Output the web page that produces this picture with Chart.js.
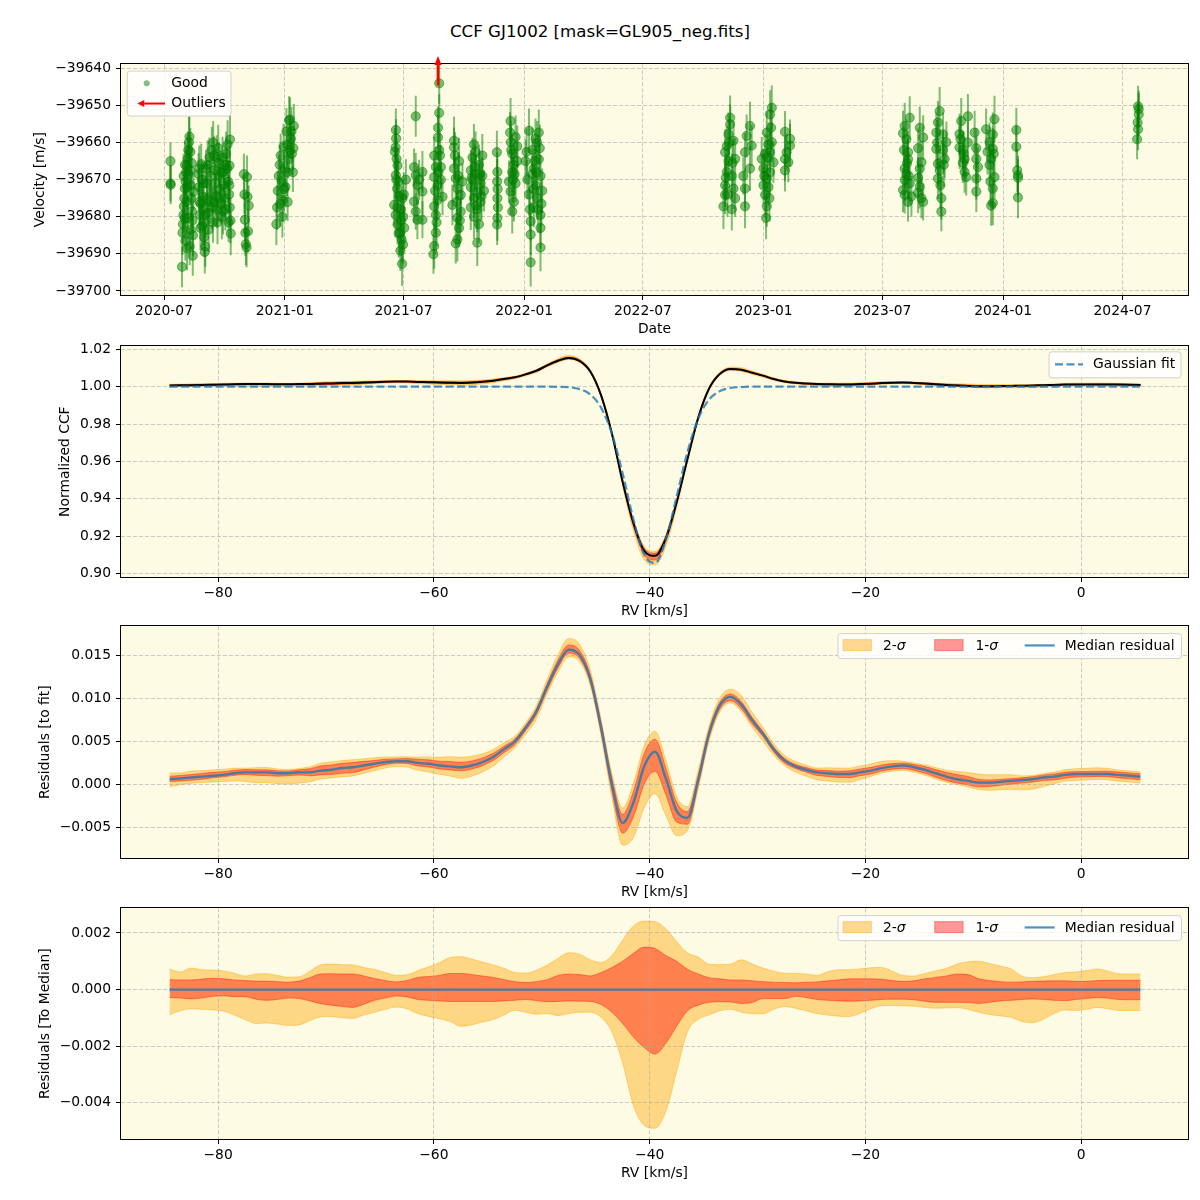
<!DOCTYPE html>
<html><head><meta charset="utf-8">
<script src="https://cdn.jsdelivr.net/npm/chart.js@4.4.1/dist/chart.umd.min.js"></script>
<style>
html,body{margin:0;padding:0;background:#fff;}
#wrap{position:relative;width:1200px;height:1200px;overflow:hidden;background:#fff;}
canvas{position:absolute;left:0;}
#title{position:absolute;left:0;width:1200px;top:21px;text-align:center;font:16.67px 'DejaVu Sans',sans-serif;color:#000;line-height:22px;}
</style></head><body>
<div id="wrap">
<div id="title">CCF GJ1002 [mask=GL905_neg.fits]</div>
<canvas id="c1" width="1200" height="291" style="top:51px"></canvas>
<canvas id="c2" width="1200" height="291" style="top:333px"></canvas>
<canvas id="c3" width="1200" height="292" style="top:613px"></canvas>
<canvas id="c4" width="1200" height="291" style="top:895px"></canvas>
</div>
<script>
// ---------------- DATA ----------------
// Panel 1: [decimal year, velocity m/s, error m/s]
const goodObs = [
[2020.524,-39665.0,5.0],[2020.524,-39671.0,4.8],[2020.525,-39671.4,5.2],
[2020.572,-39693.5,5.5],[2020.574,-39684.3,6.0],[2020.576,-39682.0,5.2],[2020.578,-39679.5,4.8],[2020.580,-39677.2,5.5],[2020.582,-39675.0,6.2],[2020.584,-39672.4,5.0],[2020.587,-39670.5,4.6],[2020.589,-39668.0,5.8],[2020.592,-39666.2,5.2],[2020.595,-39664.4,6.5],[2020.598,-39662.0,5.0],[2020.601,-39659.9,6.8],[2020.603,-39658.4,5.5],[2020.606,-39667.5,4.8],[2020.608,-39671.5,5.4],[2020.611,-39675.0,6.0],[2020.613,-39678.5,5.2],[2020.616,-39681.0,4.9],[2020.618,-39685.0,5.6],[2020.620,-39673.2,5.0],[2020.586,-39686.5,5.3],[2020.597,-39680.3,5.7],[2020.604,-39688.0,5.1],[2020.617,-39690.5,5.4],
[2020.579,-39669.0,6.0],[2020.583,-39680.5,5.5],[2020.590,-39676.0,5.8],[2020.594,-39672.0,6.1],[2020.599,-39668.5,5.3],[2020.607,-39662.5,6.4],[2020.612,-39665.5,5.7],[2020.609,-39683.5,5.2],[2020.593,-39688.5,5.9],[2020.585,-39666.0,6.3],
[2020.641,-39668.5,5.6],[2020.643,-39672.0,5.2],[2020.645,-39676.0,5.9],[2020.647,-39679.5,5.3],[2020.649,-39683.0,6.0],[2020.652,-39665.8,5.5],[2020.655,-39670.0,5.0],[2020.657,-39674.5,5.7],[2020.660,-39678.0,5.4],[2020.662,-39681.5,6.1],[2020.664,-39685.5,5.2],[2020.667,-39689.5,5.8],[2020.669,-39688.0,5.5],[2020.672,-39667.0,5.1],[2020.675,-39671.0,5.9],[2020.677,-39675.5,5.3],[2020.680,-39679.0,5.6],[2020.683,-39683.5,6.0],[2020.686,-39664.0,5.4],[2020.690,-39669.0,5.7],[2020.694,-39673.5,5.0],[2020.698,-39677.5,5.8],[2020.701,-39681.5,5.5],
[2020.644,-39667.0,6.2],[2020.650,-39676.5,5.8],[2020.656,-39682.5,6.4],[2020.663,-39671.0,5.5],[2020.670,-39679.5,6.0],[2020.679,-39666.0,6.6],[2020.688,-39676.0,5.9],[2020.696,-39662.0,6.3],
[2020.702,-39660.0,5.8],[2020.705,-39663.5,5.2],[2020.708,-39667.5,6.0],[2020.711,-39671.0,5.4],[2020.714,-39674.5,5.7],[2020.717,-39678.0,5.1],[2020.720,-39681.5,5.9],[2020.723,-39661.5,6.3],[2020.726,-39665.5,5.5],[2020.729,-39669.0,5.0],[2020.732,-39672.5,5.8],[2020.735,-39676.5,5.3],[2020.738,-39680.0,6.1],[2020.741,-39664.0,5.6],[2020.744,-39668.0,5.2],[2020.747,-39671.5,5.9],[2020.750,-39675.0,5.4],[2020.753,-39678.0,5.7],[2020.756,-39663.0,6.0],[2020.760,-39667.0,5.3],[2020.764,-39670.5,5.8],[2020.768,-39674.0,5.1],[2020.771,-39677.5,5.6],[2020.774,-39681.0,6.2],[2020.772,-39659.2,6.5],[2020.770,-39666.2,5.4],[2020.775,-39684.5,5.9],[2020.766,-39681.5,5.3],
[2020.707,-39676.0,6.2],[2020.716,-39664.0,6.0],[2020.725,-39675.0,6.4],[2020.734,-39668.0,5.8],[2020.743,-39678.5,6.3],[2020.752,-39666.0,5.9],[2020.762,-39660.5,6.5],[2020.769,-39671.5,6.0],
[2020.830,-39668.5,5.5],[2020.832,-39674.0,5.2],[2020.834,-39680.8,5.9],[2020.836,-39684.3,6.2],[2020.838,-39687.4,5.6],[2020.841,-39688.3,5.3],[2020.843,-39669.3,5.8],[2020.845,-39674.6,5.0],[2020.847,-39683.9,5.7],[2020.850,-39677.0,5.4],
[2020.965,-39682.0,5.6],[2020.968,-39677.5,6.0],[2020.971,-39673.0,5.3],[2020.975,-39669.0,5.8],[2020.979,-39666.0,5.2],[2020.983,-39663.5,5.9],[2020.987,-39670.5,5.4],[2020.991,-39675.5,5.7],[2020.995,-39661.0,6.1],[2020.999,-39667.0,5.0],[2021.003,-39672.0,5.5],[2021.007,-39657.0,6.3],[2021.011,-39660.5,5.6],[2021.015,-39664.5,5.2],[2021.018,-39654.0,6.5],[2021.022,-39653.8,6.0],[2021.026,-39659.0,5.4],[2021.030,-39663.0,5.8],[2021.034,-39668.0,5.3],[2021.038,-39655.5,5.9],[2021.012,-39676.0,5.1],[2020.990,-39680.0,5.6],
[2020.981,-39676.5,6.2],[2020.997,-39672.5,6.0],[2021.009,-39668.0,6.4],[2021.020,-39662.0,6.1],[2021.028,-39657.0,6.6],[2021.036,-39661.5,6.0],
[2021.464,-39656.6,5.8],[2021.465,-39658.9,5.2],[2021.463,-39661.3,6.0],[2021.467,-39664.4,5.5],[2021.471,-39666.2,4.9],[2021.464,-39668.8,6.3],[2021.469,-39672.4,5.0],[2021.457,-39676.8,5.6],[2021.463,-39679.5,6.1],[2021.471,-39682.1,5.3],[2021.481,-39684.3,5.8],[2021.488,-39686.1,6.2],[2021.483,-39689.2,5.4],[2021.490,-39692.7,6.0],[2021.495,-39680.0,5.1],[2021.506,-39670.0,5.5],[2021.492,-39675.0,4.8],[2021.478,-39674.5,5.2],[2021.474,-39670.5,6.4],[2021.485,-39678.0,5.0],[2021.499,-39683.0,5.7],[2021.494,-39687.5,5.2],
[2021.460,-39662.5,6.4],[2021.466,-39670.0,6.0],[2021.470,-39677.5,6.3],[2021.476,-39684.5,6.5],[2021.486,-39681.0,6.2],[2021.497,-39674.0,6.0],
[2021.547,-39652.9,5.5],[2021.540,-39666.6,5.0],[2021.547,-39668.8,6.0],[2021.554,-39671.5,5.2],[2021.540,-39675.9,5.8],[2021.547,-39678.6,4.9],[2021.554,-39680.8,5.3],[2021.575,-39667.9,5.6],[2021.575,-39673.2,6.2],[2021.575,-39680.8,5.0],[2021.561,-39670.0,5.4],
[2021.645,-39644.0,5.5],[2021.645,-39652.0,5.0],[2021.640,-39656.0,5.8],[2021.640,-39658.6,6.2],[2021.624,-39663.5,5.0],[2021.631,-39666.6,5.4],[2021.652,-39666.6,6.0],[2021.624,-39669.3,5.2],[2021.638,-39671.5,5.7],[2021.659,-39674.6,5.0],[2021.624,-39677.2,6.3],[2021.631,-39679.5,5.1],[2021.631,-39684.3,5.9],[2021.624,-39687.9,6.1],[2021.621,-39690.1,5.3],[2021.645,-39662.0,5.6],[2021.652,-39670.0,4.9],[2021.638,-39675.5,5.5],
[2021.628,-39673.0,6.2],[2021.634,-39681.5,6.4],[2021.642,-39668.0,6.0],[2021.648,-39663.5,6.3],
[2021.707,-39659.5,6.5],[2021.707,-39661.3,5.4],[2021.707,-39667.0,5.0],[2021.714,-39669.7,5.8],[2021.721,-39672.4,6.2],[2021.735,-39674.1,5.1],[2021.700,-39676.8,5.5],[2021.721,-39680.3,5.9],[2021.728,-39683.0,5.2],[2021.721,-39686.1,6.0],[2021.714,-39687.2,5.4],[2021.735,-39678.6,5.7],[2021.728,-39665.0,6.3],[2021.742,-39670.5,5.0],
[2021.711,-39663.5,6.3],[2021.718,-39676.0,6.0],[2021.725,-39669.0,6.4],[2021.731,-39681.0,6.1],
[2021.777,-39667.5,5.6],[2021.777,-39672.0,5.0],[2021.777,-39677.5,6.1],[2021.784,-39664.0,5.3],[2021.784,-39670.0,5.8],[2021.790,-39675.0,5.2],[2021.790,-39680.0,6.0],[2021.797,-39662.5,5.5],[2021.797,-39668.5,4.9],[2021.804,-39673.5,5.7],[2021.804,-39678.0,6.2],[2021.811,-39682.0,5.1],[2021.811,-39666.0,5.4],[2021.818,-39671.0,6.0],[2021.818,-39676.0,5.3],[2021.825,-39663.5,5.8],[2021.825,-39669.0,5.0],[2021.832,-39673.0,5.6],[2021.804,-39687.0,6.3],[2021.790,-39660.5,5.5],
[2021.780,-39669.5,6.2],[2021.794,-39666.5,6.0],[2021.800,-39677.0,6.4],[2021.815,-39668.5,6.1],[2021.822,-39674.5,6.3],
[2021.886,-39662.6,5.8],[2021.888,-39667.9,5.2],[2021.887,-39670.5,6.0],[2021.889,-39672.5,5.4],[2021.888,-39675.0,5.7],[2021.890,-39677.5,5.1],[2021.888,-39680.3,6.2],[2021.887,-39682.1,5.5],
[2021.943,-39654.2,6.2],[2021.941,-39657.3,5.5],[2021.944,-39659.9,5.8],[2021.950,-39663.0,5.2],[2021.957,-39666.0,6.0],[2021.950,-39668.0,5.4],[2021.936,-39670.5,5.7],[2021.964,-39671.0,5.0],[2021.943,-39673.2,6.3],[2021.957,-39676.0,5.3],[2021.950,-39678.6,5.9],[2021.971,-39661.0,5.6],[2021.971,-39665.0,5.1],[2021.964,-39658.5,5.8],
[2021.946,-39662.0,6.4],[2021.953,-39670.0,6.1],[2021.960,-39668.5,6.0],
[2022.027,-39692.3,6.5],[2022.027,-39684.8,5.6],[2022.027,-39681.2,5.2],[2022.020,-39656.8,6.0],[2022.061,-39657.3,6.2],[2022.068,-39688.3,6.4],[2022.068,-39683.0,5.5],[2022.068,-39679.5,5.0],[2022.006,-39665.0,5.8],[2022.013,-39670.0,5.3],[2022.020,-39674.0,5.7],[2022.034,-39662.0,6.1],[2022.040,-39667.0,5.4],[2022.047,-39671.5,5.0],[2022.054,-39675.0,5.9],[2022.061,-39664.5,5.2],[2022.068,-39669.0,5.6],[2022.075,-39673.0,6.0],[2022.040,-39677.5,5.3],[2022.054,-39660.0,5.8],[2022.034,-39668.5,5.1],[2022.047,-39659.0,5.5],
[2022.010,-39662.5,6.3],[2022.024,-39678.0,6.0],[2022.037,-39672.5,6.5],[2022.044,-39665.0,6.2],[2022.051,-39668.0,6.1],[2022.058,-39678.0,6.3],[2022.065,-39661.5,6.4],[2022.072,-39676.5,6.0],
[2022.860,-39653.3,6.0],[2022.860,-39655.1,5.4],[2022.853,-39657.7,5.8],[2022.839,-39662.6,6.2],[2022.874,-39659.5,5.3],[2022.881,-39664.4,5.6],[2022.846,-39667.9,5.0],[2022.839,-39671.5,5.9],[2022.839,-39674.1,5.2],[2022.832,-39677.2,6.1],[2022.874,-39672.4,5.5],[2022.881,-39675.0,5.0],[2022.867,-39678.0,5.7],[2022.853,-39665.0,5.3],[2022.867,-39669.0,6.0],[2022.846,-39661.0,5.4],
[2022.842,-39669.5,6.2],[2022.849,-39674.0,6.0],[2022.856,-39660.0,6.4],[2022.870,-39665.5,6.1],
[2022.943,-39655.5,6.5],[2022.929,-39658.2,5.8],[2022.922,-39662.6,5.2],[2022.950,-39660.8,5.6],[2022.943,-39667.0,6.0],[2022.922,-39672.4,5.4],[2022.922,-39677.2,5.9],[2022.915,-39669.0,5.0],
[2023.034,-39650.6,6.0],[2023.027,-39652.4,6.5],[2023.013,-39657.3,5.8],[2023.034,-39659.9,5.4],[2022.992,-39664.4,5.9],[2022.999,-39667.0,5.2],[2023.013,-39669.7,5.7],[2022.999,-39671.5,5.0],[2023.006,-39674.1,6.2],[2023.013,-39677.2,5.5],[2023.010,-39680.3,5.8],[2023.027,-39662.6,5.3],[2023.041,-39665.3,5.6],[2023.020,-39672.0,5.1],[2023.027,-39668.0,5.9],[2023.006,-39663.0,5.4],[2023.020,-39660.5,6.0],
[2023.003,-39669.0,6.2],[2023.016,-39664.0,6.0],[2023.024,-39675.0,6.3],[2023.031,-39656.0,6.4],
[2023.089,-39657.1,5.6],[2023.110,-39659.0,5.2],[2023.110,-39660.8,5.8],[2023.096,-39662.6,5.0],[2023.089,-39664.4,6.0],[2023.103,-39665.3,5.4],[2023.089,-39667.5,5.7],
[2023.589,-39655.5,6.2],[2023.610,-39653.3,5.8],[2023.596,-39659.1,5.4],[2023.603,-39662.6,5.9],[2023.589,-39667.0,5.2],[2023.589,-39670.1,5.6],[2023.582,-39672.8,6.0],[2023.589,-39674.1,5.0],[2023.617,-39674.5,5.5],[2023.603,-39664.5,5.7],[2023.596,-39668.5,5.1],[2023.610,-39671.0,5.8],[2023.582,-39657.5,6.1],[2023.603,-39676.0,5.3],
[2023.586,-39662.0,6.2],[2023.599,-39665.5,6.0],[2023.606,-39669.0,6.3],
[2023.652,-39656.0,5.7],[2023.666,-39658.6,6.0],[2023.645,-39661.5,5.3],[2023.659,-39665.3,5.8],[2023.652,-39667.0,5.2],[2023.645,-39669.5,5.6],[2023.652,-39671.9,5.9],[2023.659,-39675.0,5.4],[2023.666,-39676.0,5.0],[2023.645,-39673.5,5.5],
[2023.735,-39651.5,6.5],[2023.728,-39654.6,5.8],[2023.721,-39657.3,5.4],[2023.749,-39657.8,5.9],[2023.763,-39659.9,5.6],[2023.756,-39664.4,5.2],[2023.728,-39665.7,6.0],[2023.728,-39669.7,5.5],[2023.742,-39675.0,5.8],[2023.742,-39678.6,5.3],[2023.721,-39661.7,5.7],[2023.749,-39662.0,5.1],[2023.735,-39667.5,5.9],
[2023.725,-39660.0,6.1],[2023.738,-39671.5,6.3],[2023.752,-39666.0,6.0],
[2023.825,-39654.2,6.2],[2023.853,-39652.9,6.0],[2023.818,-39657.7,5.5],[2023.818,-39661.3,5.8],[2023.832,-39662.0,5.2],[2023.839,-39664.4,5.9],[2023.832,-39665.5,5.4],[2023.839,-39667.9,5.6],[2023.846,-39669.3,5.0],[2023.853,-39660.0,5.7],
[2023.822,-39659.0,6.2],[2023.835,-39663.0,6.0],
[2023.881,-39657.3,5.9],[2023.888,-39661.5,5.4],[2023.888,-39664.4,6.0],[2023.895,-39666.6,5.3],[2023.888,-39669.7,5.7],[2023.888,-39673.2,5.5],
[2023.964,-39653.7,6.3],[2023.929,-39656.4,5.6],[2023.957,-39657.8,5.9],[2023.943,-39659.9,5.3],[2023.957,-39661.7,5.7],[2023.950,-39664.4,5.2],[2023.964,-39669.3,5.8],[2023.957,-39672.4,5.5],[2023.957,-39676.3,6.0],[2023.950,-39677.0,5.4],[2023.943,-39666.0,5.6],
[2023.935,-39662.5,6.1],[2023.947,-39670.5,6.3],[2023.961,-39663.0,6.0],
[2024.055,-39656.6,6.0],[2024.055,-39661.1,5.5],[2024.059,-39667.5,5.8],[2024.062,-39668.8,5.2],[2024.062,-39674.8,5.6],[2024.062,-39669.5,5.0],
[2024.562,-39650.2,5.5],[2024.565,-39651.0,5.0],[2024.565,-39652.4,5.8],[2024.560,-39654.6,5.2],[2024.562,-39656.4,5.6],[2024.558,-39659.1,5.4]
];
const outlierObs = [[2021.640,-39625.0]];
const dateTicks = ['2020-07','2021-01','2021-07','2022-01','2022-07','2023-01','2023-07','2024-01','2024-07'];
const dateRange = [2020.318, 2024.770];
const velTicks = [-39700,-39690,-39680,-39670,-39660,-39650,-39640];
const velRange = [-39701.1, -39638.9];

// Panels 2-4: RV grid (km/s)
const rvGrid = [-84.5,-83.5,-82.5,-81.5,-80.5,-79.5,-78.5,-77.5,-76.5,-75.5,
-74.5,-73.5,-72.5,-71.5,-70.5,-69.5,-68.5,-67.5,-66.5,-65.5,
-64.5,-63.5,-62.5,-61.5,-60.5,-59.5,-58.5,-57.5,-56.5,-55.5,
-54.5,-53.5,-52.5,-51.5,-50.5,-49.5,-48.5,-47.5,-46.5,-45.5,
-44.5,-43.5,-42.5,-41.5,-40.5,-39.5,-38.5,-37.5,-36.5,-35.5,
-34.5,-33.5,-32.5,-31.5,-30.5,-29.5,-28.5,-27.5,-26.5,-25.5,
-24.5,-23.5,-22.5,-21.5,-20.5,-19.5,-18.5,-17.5,-16.5,-15.5,
-14.5,-13.5,-12.5,-11.5,-10.5,-9.5,-8.5,-7.5,-6.5,-5.5,
-4.5,-3.5,-2.5,-1.5,-0.5,0.5,1.5,2.5,3.5,4.5,
5.5];
const gaussFit = [1,1,1,1,1,1,1,1,1,1,
1,1,1,1,1,1,1,1,1,1,
1,1,1,1,1,1,1,1,1,1,
1,1,1,1,1,1,0.9999,0.9997,0.9987,0.9958,
0.9887,0.9749,0.9535,0.9289,0.9099,0.9056,0.9180,0.9411,0.9650,0.9828,
0.9930,0.9976,0.9993,0.9998,1,1,1,1,1,1,
1,1,1,1,1,1,1,1,1,1,
1,1,1,1,1,1,1,1,1,1,
1,1,1,1,1,1,1,1,1,1,
1];
const residMedian = [0.0006,0.0007,0.0008,0.0009,0.0010,0.0011,0.0013,0.0014,0.0014,0.0014,
0.0013,0.0013,0.0014,0.0014,0.0016,0.0017,0.0019,0.0020,0.0022,0.0024,
0.0026,0.0027,0.0027,0.0025,0.0024,0.0022,0.0021,0.0020,0.0022,0.0026,
0.0032,0.0041,0.0050,0.0066,0.0085,0.0114,0.0140,0.0157,0.0151,0.0123,
0.0066,0.0000,-0.0045,-0.0021,0.0021,0.0038,0.0007,-0.0031,-0.0039,0.0005,
0.0059,0.0092,0.0102,0.0093,0.0075,0.0059,0.0041,0.0028,0.0021,0.0017,
0.0014,0.0013,0.0012,0.0012,0.0014,0.0016,0.0019,0.0021,0.0022,0.0020,
0.0017,0.0013,0.0009,0.0006,0.0004,0.0002,0.0002,0.0003,0.0004,0.0005,
0.0006,0.0008,0.0009,0.0011,0.0012,0.0012,0.0012,0.0012,0.0011,0.0010,
0.0009];
// percentile offsets relative to the median CCF
const sig2Hi = [0.00073,0.00062,0.00076,0.00070,0.00069,0.00066,0.00058,0.00048,0.00055,0.00056,
0.00050,0.00044,0.00045,0.00065,0.00087,0.00090,0.00088,0.00087,0.00078,0.00071,
0.00060,0.00050,0.00052,0.00067,0.00080,0.00095,0.00113,0.00116,0.00108,0.00097,
0.00087,0.00075,0.00060,0.00058,0.00068,0.00087,0.00110,0.00130,0.00125,0.00105,
0.00096,0.00120,0.00175,0.00225,0.00242,0.00240,0.00215,0.00170,0.00130,0.00115,
0.00090,0.00088,0.00090,0.00105,0.00090,0.00076,0.00065,0.00058,0.00057,0.00055,
0.00050,0.00063,0.00070,0.00070,0.00073,0.00077,0.00078,0.00065,0.00050,0.00048,
0.00057,0.00066,0.00075,0.00090,0.00098,0.00100,0.00092,0.00083,0.00073,0.00048,
0.00042,0.00045,0.00053,0.00060,0.00062,0.00067,0.00073,0.00065,0.00056,0.00055,
0.00055];
const sig1Hi = [0.00035,0.00034,0.00034,0.00037,0.00040,0.00038,0.00034,0.00032,0.00030,0.00030,
0.00028,0.00026,0.00030,0.00042,0.00055,0.00056,0.00055,0.00055,0.00048,0.00039,
0.00032,0.00027,0.00032,0.00043,0.00046,0.00050,0.00057,0.00057,0.00053,0.00048,
0.00043,0.00035,0.00028,0.00025,0.00028,0.00035,0.00050,0.00055,0.00053,0.00048,
0.00060,0.00078,0.00100,0.00128,0.00150,0.00145,0.00120,0.00100,0.00072,0.00055,
0.00042,0.00038,0.00034,0.00034,0.00031,0.00028,0.00026,0.00025,0.00024,0.00026,
0.00027,0.00031,0.00034,0.00038,0.00038,0.00038,0.00036,0.00032,0.00029,0.00031,
0.00038,0.00043,0.00048,0.00055,0.00053,0.00038,0.00032,0.00028,0.00026,0.00027,
0.00029,0.00030,0.00031,0.00031,0.00029,0.00029,0.00032,0.00033,0.00033,0.00033,
0.00033];
const sig1Lo = [-0.00028,-0.00030,-0.00033,-0.00030,-0.00024,-0.00022,-0.00025,-0.00025,-0.00034,-0.00038,
-0.00035,-0.00030,-0.00032,-0.00040,-0.00050,-0.00055,-0.00060,-0.00063,-0.00052,-0.00038,
-0.00030,-0.00023,-0.00026,-0.00035,-0.00038,-0.00040,-0.00042,-0.00042,-0.00042,-0.00042,
-0.00042,-0.00040,-0.00038,-0.00035,-0.00039,-0.00043,-0.00042,-0.00040,-0.00041,-0.00042,
-0.00053,-0.00080,-0.00120,-0.00168,-0.00205,-0.00228,-0.00190,-0.00130,-0.00075,-0.00055,
-0.00045,-0.00043,-0.00044,-0.00049,-0.00046,-0.00032,-0.00032,-0.00032,-0.00024,-0.00028,
-0.00035,-0.00038,-0.00040,-0.00041,-0.00040,-0.00038,-0.00035,-0.00034,-0.00034,-0.00036,
-0.00041,-0.00045,-0.00045,-0.00045,-0.00046,-0.00049,-0.00045,-0.00040,-0.00038,-0.00035,
-0.00033,-0.00035,-0.00038,-0.00039,-0.00035,-0.00032,-0.00028,-0.00031,-0.00035,-0.00036,
-0.00036];
const sig2Lo = [-0.00089,-0.00075,-0.00068,-0.00070,-0.00072,-0.00076,-0.00090,-0.00106,-0.00120,-0.00118,
-0.00122,-0.00127,-0.00125,-0.00110,-0.00097,-0.00095,-0.00100,-0.00102,-0.00090,-0.00080,
-0.00070,-0.00062,-0.00068,-0.00085,-0.00095,-0.00103,-0.00113,-0.00130,-0.00125,-0.00115,
-0.00106,-0.00090,-0.00073,-0.00080,-0.00087,-0.00085,-0.00092,-0.00085,-0.00080,-0.00080,
-0.00098,-0.00150,-0.00260,-0.00410,-0.00480,-0.00490,-0.00430,-0.00290,-0.00150,-0.00105,
-0.00090,-0.00075,-0.00070,-0.00080,-0.00085,-0.00086,-0.00070,-0.00060,-0.00066,-0.00075,
-0.00085,-0.00090,-0.00094,-0.00095,-0.00084,-0.00068,-0.00057,-0.00056,-0.00057,-0.00059,
-0.00063,-0.00066,-0.00065,-0.00064,-0.00070,-0.00080,-0.00088,-0.00093,-0.00098,-0.00113,
-0.00117,-0.00105,-0.00085,-0.00072,-0.00074,-0.00070,-0.00063,-0.00068,-0.00074,-0.00074,
-0.00074];
const rvTicks = [-80,-60,-40,-20,0];
const rvRange = [-89.0, 9.9];
const ccfTicks = [0.90,0.92,0.94,0.96,0.98,1.00,1.02];
const ccfRange = [0.89805, 1.0216];
const residTicks = [-0.005,0.000,0.005,0.010,0.015];
const residRange = [-0.00859, 0.01843];
const medTicks = [-0.004,-0.002,0.000,0.002];
const medRange = [-0.00528, 0.00287];

// ---------------- STYLE ----------------
const BG = 'rgb(253,251,227)';
const GRID = 'rgba(170,170,170,0.6)';
const FONT = "'DejaVu Sans', sans-serif";
const FS = 13.89;
const GREEN = 'rgba(0,128,0,0.5)';
const ORANGE = 'rgba(255,165,0,0.42)';
const RED = 'rgba(255,0,0,0.4)';
const BLUE = 'rgba(31,119,180,0.8)';

const toMs = y => { const Y = Math.floor(y), a = Date.UTC(Y,0,1), b = Date.UTC(Y+1,0,1); return a + (y - Y) * (b - a); };
const monthMs = s => { const p = s.split('-').map(Number); return Date.UTC(p[0], p[1]-1, 1); };
const fmt = (v, d) => (v < 0 ? '\u2212' : '') + Math.abs(v).toFixed(d);
const font = (st) => (st ? st + ' ' : '') + FS + 'px ' + FONT;

function drawGrid(chart){
  const a = chart.chartArea, ctx = chart.ctx, xs = chart.scales.x, ys = chart.scales.y;
  ctx.save();
  ctx.strokeStyle = GRID; ctx.lineWidth = 1; ctx.setLineDash([4,2]);
  xs.ticks.forEach(t => { const p = Math.round(xs.getPixelForValue(t.value) - 0.5) + 0.5;
    ctx.beginPath(); ctx.moveTo(p, a.top); ctx.lineTo(p, a.bottom); ctx.stroke(); });
  ys.ticks.forEach(t => { const p = Math.round(ys.getPixelForValue(t.value) - 0.5) + 0.5;
    ctx.beginPath(); ctx.moveTo(a.left, p); ctx.lineTo(a.right, p); ctx.stroke(); });
  ctx.restore();
}
function drawBox(chart){
  const a = chart.chartArea, ctx = chart.ctx;
  ctx.save(); ctx.strokeStyle = '#000'; ctx.lineWidth = 1;
  ctx.strokeRect(Math.round(a.left) - 0.5, Math.round(a.top) - 0.5, Math.round(a.right - a.left) + 1, Math.round(a.bottom - a.top) + 1);
  ctx.restore();
}
function roundBox(ctx, x, y, w, h, r){
  ctx.save();
  ctx.beginPath();
  ctx.moveTo(x + r, y); ctx.lineTo(x + w - r, y); ctx.arcTo(x + w, y, x + w, y + r, r);
  ctx.lineTo(x + w, y + h - r); ctx.arcTo(x + w, y + h, x + w - r, y + h, r);
  ctx.lineTo(x + r, y + h); ctx.arcTo(x, y + h, x, y + h - r, r);
  ctx.lineTo(x, y + r); ctx.arcTo(x, y, x + r, y, r); ctx.closePath();
  ctx.fillStyle = 'rgba(255,255,255,0.8)'; ctx.fill();
  ctx.strokeStyle = 'rgba(204,204,204,0.9)'; ctx.lineWidth = 1; ctx.stroke();
  ctx.restore();
}
function text(ctx, s, x, y, st){
  ctx.save(); ctx.font = font(st); ctx.fillStyle = '#000'; ctx.textAlign = 'left'; ctx.textBaseline = 'middle';
  ctx.fillText(s, x, y); const w = ctx.measureText(s).width; ctx.restore(); return w;
}
function arrow(ctx, x1, y1, x2, y2, lw, hl, hw, color){
  const ang = Math.atan2(y2 - y1, x2 - x1), c = Math.cos(ang), s = Math.sin(ang);
  const bx = x2 - hl * c, by = y2 - hl * s;
  ctx.save(); ctx.strokeStyle = color; ctx.fillStyle = color; ctx.lineWidth = lw;
  ctx.beginPath(); ctx.moveTo(x1, y1); ctx.lineTo(bx, by); ctx.stroke();
  ctx.beginPath(); ctx.moveTo(x2, y2); ctx.lineTo(bx + hw * s, by - hw * c); ctx.lineTo(bx - hw * s, by + hw * c); ctx.closePath(); ctx.fill();
  ctx.restore();
}
function sigmaLegend(chart){
  const a = chart.chartArea, ctx = chart.ctx;
  const w = 343.5, h = 25, x0 = a.right - 6.5 - w, y0 = a.top + 7.3;
  roundBox(ctx, x0, y0, w, h, 3);
  const cy = y0 + 12.3;
  ctx.save();
  ctx.fillStyle = ORANGE; ctx.strokeStyle = ORANGE; ctx.lineWidth = 1;
  ctx.fillRect(x0 + 5, y0 + 6, 28.4, 11); ctx.strokeRect(x0 + 5, y0 + 6, 28.4, 11);
  ctx.fillStyle = RED; ctx.strokeStyle = RED;
  ctx.fillRect(x0 + 96.7, y0 + 6, 28.4, 11); ctx.strokeRect(x0 + 96.7, y0 + 6, 28.4, 11);
  ctx.strokeStyle = BLUE; ctx.lineWidth = 2.2;
  ctx.beginPath(); ctx.moveTo(x0 + 186.7, cy - 0.5); ctx.lineTo(x0 + 216.7, cy - 0.5); ctx.stroke();
  ctx.restore();
  let w1 = text(ctx, '2-', x0 + 45, cy); text(ctx, '\u03c3', x0 + 45 + w1, cy, 'italic');
  w1 = text(ctx, '1-', x0 + 137.4, cy); text(ctx, '\u03c3', x0 + 137.4 + w1, cy, 'italic');
  text(ctx, 'Median residual', x0 + 226.7, cy);
}
function makeFrame(opts){
  return {
    id: 'frame',
    beforeDraw(chart){ const a = chart.chartArea, ctx = chart.ctx; ctx.save(); ctx.fillStyle = BG; ctx.fillRect(a.left, a.top, a.right - a.left, a.bottom - a.top); ctx.restore(); },
    beforeDatasetDraw(chart, args){ if (args.index !== opts.gridBefore) return; drawGrid(chart); if (opts.beforeLines) opts.beforeLines(chart); },
    afterDraw(chart){ drawBox(chart); if (opts.after) opts.after(chart); }
  };
}
function axis(cfg, horiz){
  return {
    type: 'linear', min: cfg.min, max: cfg.max,
    afterFit(s){ if (horiz) s.height = 47; else s.width = 121 - cfg.padLeft; },
    afterBuildTicks(s){ s.ticks = cfg.ticks.map(v => ({value: v})); },
    ticks: { callback: cfg.label, font: {family: FONT, size: FS}, color: '#000', padding: horiz ? 3 : 5, maxRotation: 0, autoSkip: false },
    grid: { drawOnChartArea: false, drawTicks: true, tickColor: '#000', tickLength: 5, tickWidth: 1 },
    border: { display: false },
    title: { display: true, text: cfg.title, font: {family: FONT, size: FS}, color: '#000', padding: {top: 4, bottom: 4} }
  };
}
function options(padLeft, xcfg, ycfg){
  ycfg.padLeft = padLeft;
  return {
    responsive: false, animation: false, devicePixelRatio: 1, events: [],
    layout: { padding: { top: 10, left: padLeft, right: 12, bottom: 0 } },
    plugins: { legend: {display: false}, tooltip: {enabled: false}, title: {display: false} },
    scales: { x: axis(xcfg, true), y: axis(ycfg, false) }
  };
}
const rvAxis = () => ({ min: rvRange[0], max: rvRange[1], ticks: rvTicks, label: v => fmt(v, 0), title: 'RV [km/s]' });
const pts = ys => rvGrid.map((x, i) => ({x: x, y: ys[i]}));
const lineDs = (ys, color, width, extra) => Object.assign({ data: pts(ys), borderColor: color, borderWidth: width, pointRadius: 0, fill: false, cubicInterpolationMode: 'monotone' }, extra || {});
const bandDs = (base, off, color, fillNext) => ({ data: pts(base.map((b, i) => b + off[i])), borderColor: color, backgroundColor: color, borderWidth: 1, pointRadius: 0, fill: fillNext ? '+1' : false, cubicInterpolationMode: 'monotone' });

// ---------------- PANEL 1 ----------------
new Chart(document.getElementById('c1'), {
  type: 'scatter',
  data: { datasets: [{
    data: goodObs.map(p => ({x: toMs(p[0]), y: p[1], e: p[2]})),
    pointRadius: 4.6, pointBackgroundColor: GREEN, pointBorderColor: GREEN, pointBorderWidth: 1, pointHoverRadius: 4.6
  }] },
  options: options(28.5,
    { min: toMs(dateRange[0]), max: toMs(dateRange[1]), ticks: dateTicks.map(monthMs), label: (v, i) => dateTicks[i], title: 'Date' },
    { min: velRange[0], max: velRange[1], ticks: velTicks, label: v => fmt(v, 0), title: 'Velocity [m/s]' }),
  plugins: [makeFrame({
    gridBefore: 0,
    beforeLines(chart){
      const a = chart.chartArea, ctx = chart.ctx, xs = chart.scales.x, ys = chart.scales.y;
      ctx.save(); ctx.beginPath(); ctx.rect(a.left, a.top, a.right - a.left, a.bottom - a.top); ctx.clip();
      ctx.strokeStyle = GREEN; ctx.lineWidth = 2;
      goodObs.forEach(p => { const x = xs.getPixelForValue(toMs(p[0]));
        ctx.beginPath(); ctx.moveTo(x, ys.getPixelForValue(p[1] - p[2])); ctx.lineTo(x, ys.getPixelForValue(p[1] + p[2])); ctx.stroke(); });
      ctx.restore();
    },
    after(chart){
      const a = chart.chartArea, ctx = chart.ctx, xs = chart.scales.x, ys = chart.scales.y;
      outlierObs.forEach(o => { const x = xs.getPixelForValue(toMs(o[0]));
        if (o[1] > ys.max) arrow(ctx, x, a.top + 21, x, a.top - 8.3, 2.7, 9, 3.6, '#ff0000'); });
      const x0 = a.left + 6.3, y0 = a.top + 6.7;
      roundBox(ctx, x0, y0, 103.7, 45, 3);
      ctx.save(); ctx.fillStyle = GREEN; ctx.beginPath(); ctx.arc(x0 + 19.4, y0 + 12.3, 3, 0, 2 * Math.PI); ctx.fill(); ctx.restore();
      text(ctx, 'Good', x0 + 44, y0 + 12.3);
      arrow(ctx, x0 + 37.7, y0 + 32.5, x0 + 10, y0 + 32.5, 2, 7, 3.5, '#ff0000');
      text(ctx, 'Outliers', x0 + 44, y0 + 32.5);
    }
  })]
});

// ---------------- PANEL 2 ----------------
const ccfMedian = gaussFit.map((g, i) => g + residMedian[i]);
new Chart(document.getElementById('c2'), {
  type: 'line',
  data: { datasets: [
    lineDs(gaussFit, BLUE, 2.2, { borderDash: [8, 3.5] }),
    lineDs(ccfMedian, '#000', 2),
    bandDs(ccfMedian, sig1Hi, RED, true),
    bandDs(ccfMedian, sig1Lo, RED, false),
    bandDs(ccfMedian, sig2Hi, ORANGE, true),
    bandDs(ccfMedian, sig2Lo, ORANGE, false)
  ] },
  options: options(53.5, rvAxis(),
    { min: ccfRange[0], max: ccfRange[1], ticks: ccfTicks, label: v => fmt(v, 2), title: 'Normalized CCF' }),
  plugins: [makeFrame({
    gridBefore: 1,
    after(chart){
      const a = chart.chartArea, ctx = chart.ctx;
      const w = 132, h = 26, x0 = a.right - 7 - w, y0 = a.top + 5.5, cy = y0 + 12.5;
      roundBox(ctx, x0, y0, w, h, 3);
      ctx.save(); ctx.strokeStyle = BLUE; ctx.lineWidth = 2.2; ctx.setLineDash([8, 3.5]);
      ctx.beginPath(); ctx.moveTo(x0 + 6, cy); ctx.lineTo(x0 + 34, cy); ctx.stroke(); ctx.restore();
      text(ctx, 'Gaussian fit', x0 + 44, cy);
    }
  })]
});

// ---------------- PANEL 3 ----------------
new Chart(document.getElementById('c3'), {
  type: 'line',
  data: { datasets: [
    lineDs(residMedian, BLUE, 2.4),
    bandDs(residMedian, sig1Hi, RED, true),
    bandDs(residMedian, sig1Lo, RED, false),
    bandDs(residMedian, sig2Hi, ORANGE, true),
    bandDs(residMedian, sig2Lo, ORANGE, false)
  ] },
  options: options(33.5, rvAxis(),
    { min: residRange[0], max: residRange[1], ticks: residTicks, label: v => fmt(v, 3), title: 'Residuals [to fit]' }),
  plugins: [makeFrame({ gridBefore: 0, after: sigmaLegend })]
});

// ---------------- PANEL 4 ----------------
const zeroLine = residMedian.map(() => 0); // median residual relative to itself
new Chart(document.getElementById('c4'), {
  type: 'line',
  data: { datasets: [
    lineDs(zeroLine, BLUE, 2.2),
    bandDs(zeroLine, sig1Hi, RED, true),
    bandDs(zeroLine, sig1Lo, RED, false),
    bandDs(zeroLine, sig2Hi, ORANGE, true),
    bandDs(zeroLine, sig2Lo, ORANGE, false)
  ] },
  options: options(33.5, rvAxis(),
    { min: medRange[0], max: medRange[1], ticks: medTicks, label: v => fmt(v, 3), title: 'Residuals [To Median]' }),
  plugins: [makeFrame({ gridBefore: 0, after: sigmaLegend })]
});
</script>
</body></html>
